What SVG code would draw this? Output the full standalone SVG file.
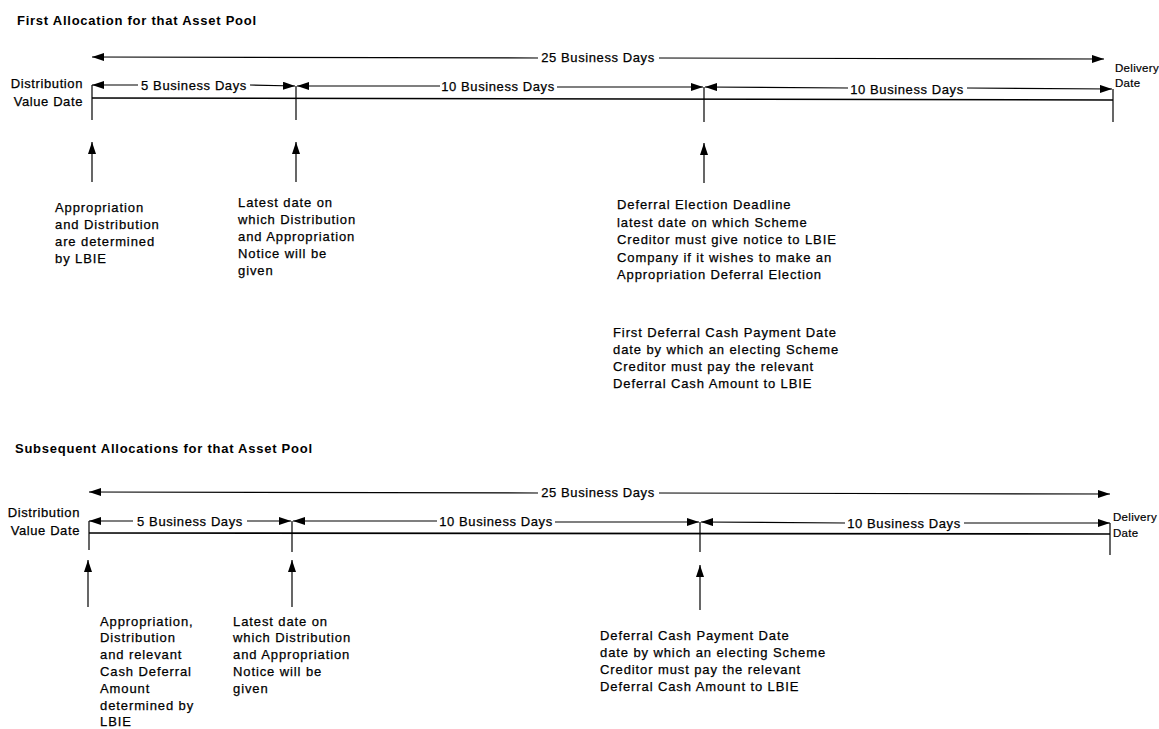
<svg xmlns="http://www.w3.org/2000/svg" width="1159" height="729" viewBox="0 0 1159 729">
<defs>
<marker id="ah" markerUnits="userSpaceOnUse" markerWidth="13" markerHeight="9" refX="12" refY="4" orient="auto-start-reverse" viewBox="0 0 13 9">
<path d="M0,0 L12,4 L0,8 z" fill="#000"/>
</marker>
<style>
text{font-family:"Liberation Sans",Arial,sans-serif;fill:#000}
.t{font-size:13px;font-weight:bold;letter-spacing:0.75px}
.l{font-size:13px;letter-spacing:0.6px;stroke:#000;stroke-width:0.25}
.d{font-size:13px;letter-spacing:0.9px;stroke:#000;stroke-width:0.25}
.s{font-size:11.5px;letter-spacing:0.3px;stroke:#000;stroke-width:0.2}
.ln{stroke:#000;stroke-width:1.2;fill:none}
.tl{stroke:#000;stroke-width:1.6;fill:none}
.a1{marker-start:url(#ah)}
.a2{marker-end:url(#ah)}
</style>
</defs>
<rect width="1159" height="729" fill="#fff"/>

<g id="first">
<text class="t" x="17" y="25">First Allocation for that Asset Pool</text>
<text class="l" x="83" y="88" text-anchor="end">Distribution</text>
<text class="l" x="83" y="106" text-anchor="end">Value Date</text>
<text class="s" x="1115" y="72">Delivery</text>
<text class="s" x="1115" y="87">Date</text>
</g>

<g id="first-connectors">
<line class="ln a1" x1="92" y1="57" x2="538" y2="58"/>
<line class="ln a2" x1="659" y1="58" x2="1104" y2="59"/>
<line class="ln a1" x1="92" y1="85" x2="138" y2="85"/>
<line class="ln a2" x1="250" y1="85" x2="295" y2="86"/>
<line class="ln a1" x1="297" y1="86" x2="440" y2="86"/>
<line class="ln a2" x1="557" y1="87" x2="703" y2="87"/>
<line class="ln a1" x1="705" y1="87" x2="848" y2="88"/>
<line class="ln a2" x1="967" y1="88" x2="1112" y2="89"/>
<line class="tl" x1="92" y1="98" x2="1113" y2="100"/>
<line class="ln" x1="92" y1="85" x2="92" y2="120"/>
<line class="ln" x1="296" y1="86" x2="296" y2="120"/>
<line class="ln" x1="704" y1="87" x2="704" y2="122"/>
<line class="ln" x1="1113" y1="89" x2="1113" y2="122"/>
<line class="ln a2" x1="92" y1="182" x2="92" y2="142"/>
<line class="ln a2" x1="296" y1="182" x2="296" y2="142"/>
<line class="ln a2" x1="704" y1="183" x2="704" y2="143"/>
</g>

<g id="first-labels">
<text class="l" x="598" y="62" text-anchor="middle">25 Business Days</text>
<text class="l" x="194" y="90" text-anchor="middle">5 Business Days</text>
<text class="l" x="498" y="91" text-anchor="middle">10 Business Days</text>
<text class="l" x="907" y="93.5" text-anchor="middle">10 Business Days</text>
</g>

<g id="first-note-a">
<text class="d" x="55" y="212">Appropriation</text>
<text class="d" x="55" y="229">and Distribution</text>
<text class="d" x="55" y="246">are determined</text>
<text class="d" x="55" y="263">by LBIE</text>
</g>
<g id="first-note-b">
<text class="d" x="238" y="207">Latest date on</text>
<text class="d" x="238" y="224">which Distribution</text>
<text class="d" x="238" y="241">and Appropriation</text>
<text class="d" x="238" y="258">Notice will be</text>
<text class="d" x="238" y="275">given</text>
</g>
<g id="first-note-c">
<text class="d" x="617" y="209">Deferral Election Deadline</text>
<text class="d" x="617" y="226.5">latest date on which Scheme</text>
<text class="d" x="617" y="244">Creditor must give notice to LBIE</text>
<text class="d" x="617" y="261.5">Company if it wishes to make an</text>
<text class="d" x="617" y="279">Appropriation Deferral Election</text>
</g>
<g id="first-note-d">
<text class="d" x="613" y="337">First Deferral Cash Payment Date</text>
<text class="d" x="613" y="354">date by which an electing Scheme</text>
<text class="d" x="613" y="371">Creditor must pay the relevant</text>
<text class="d" x="613" y="388">Deferral Cash Amount to LBIE</text>
</g>

<g id="second">
<text class="t" x="15" y="453">Subsequent Allocations for that Asset Pool</text>
<text class="l" x="80" y="517" text-anchor="end">Distribution</text>
<text class="l" x="80" y="535" text-anchor="end">Value Date</text>
<text class="s" x="1113" y="521">Delivery</text>
<text class="s" x="1113" y="537">Date</text>
</g>

<g id="second-connectors">
<line class="ln a1" x1="89" y1="492" x2="538" y2="493"/>
<line class="ln a2" x1="659" y1="493" x2="1110" y2="494"/>
<line class="ln a1" x1="89" y1="521" x2="133" y2="521"/>
<line class="ln a2" x1="247" y1="521" x2="291" y2="521"/>
<line class="ln a1" x1="293" y1="521" x2="437" y2="521"/>
<line class="ln a2" x1="555" y1="522" x2="699" y2="522"/>
<line class="ln a1" x1="701" y1="522" x2="845" y2="523"/>
<line class="ln a2" x1="964" y1="523" x2="1110" y2="523"/>
<line class="tl" x1="89" y1="533" x2="1110" y2="534"/>
<line class="ln" x1="89" y1="521" x2="89" y2="550"/>
<line class="ln" x1="292" y1="521" x2="292" y2="552"/>
<line class="ln" x1="700" y1="522" x2="700" y2="552"/>
<line class="ln" x1="1110" y1="523" x2="1110" y2="555"/>
<line class="ln a2" x1="88" y1="607" x2="88" y2="560"/>
<line class="ln a2" x1="292" y1="607" x2="292" y2="560"/>
<line class="ln a2" x1="700" y1="610" x2="700" y2="565"/>
</g>

<g id="second-labels">
<text class="l" x="598" y="497" text-anchor="middle">25 Business Days</text>
<text class="l" x="190" y="526" text-anchor="middle">5 Business Days</text>
<text class="l" x="496" y="526" text-anchor="middle">10 Business Days</text>
<text class="l" x="904" y="528" text-anchor="middle">10 Business Days</text>
</g>

<g id="second-note-a">
<text class="d" x="100" y="625.5">Appropriation,</text>
<text class="d" x="100" y="642.3">Distribution</text>
<text class="d" x="100" y="659.1">and relevant</text>
<text class="d" x="100" y="675.9">Cash Deferral</text>
<text class="d" x="100" y="692.7">Amount</text>
<text class="d" x="100" y="709.5">determined by</text>
<text class="d" x="100" y="726">LBIE</text>
</g>
<g id="second-note-b">
<text class="d" x="233" y="625.5">Latest date on</text>
<text class="d" x="233" y="642.3">which Distribution</text>
<text class="d" x="233" y="659.1">and Appropriation</text>
<text class="d" x="233" y="675.9">Notice will be</text>
<text class="d" x="233" y="692.7">given</text>
</g>
<g id="second-note-c">
<text class="d" x="600" y="640">Deferral Cash Payment Date</text>
<text class="d" x="600" y="657">date by which an electing Scheme</text>
<text class="d" x="600" y="674">Creditor must pay the relevant</text>
<text class="d" x="600" y="691">Deferral Cash Amount to LBIE</text>
</g>
</svg>
